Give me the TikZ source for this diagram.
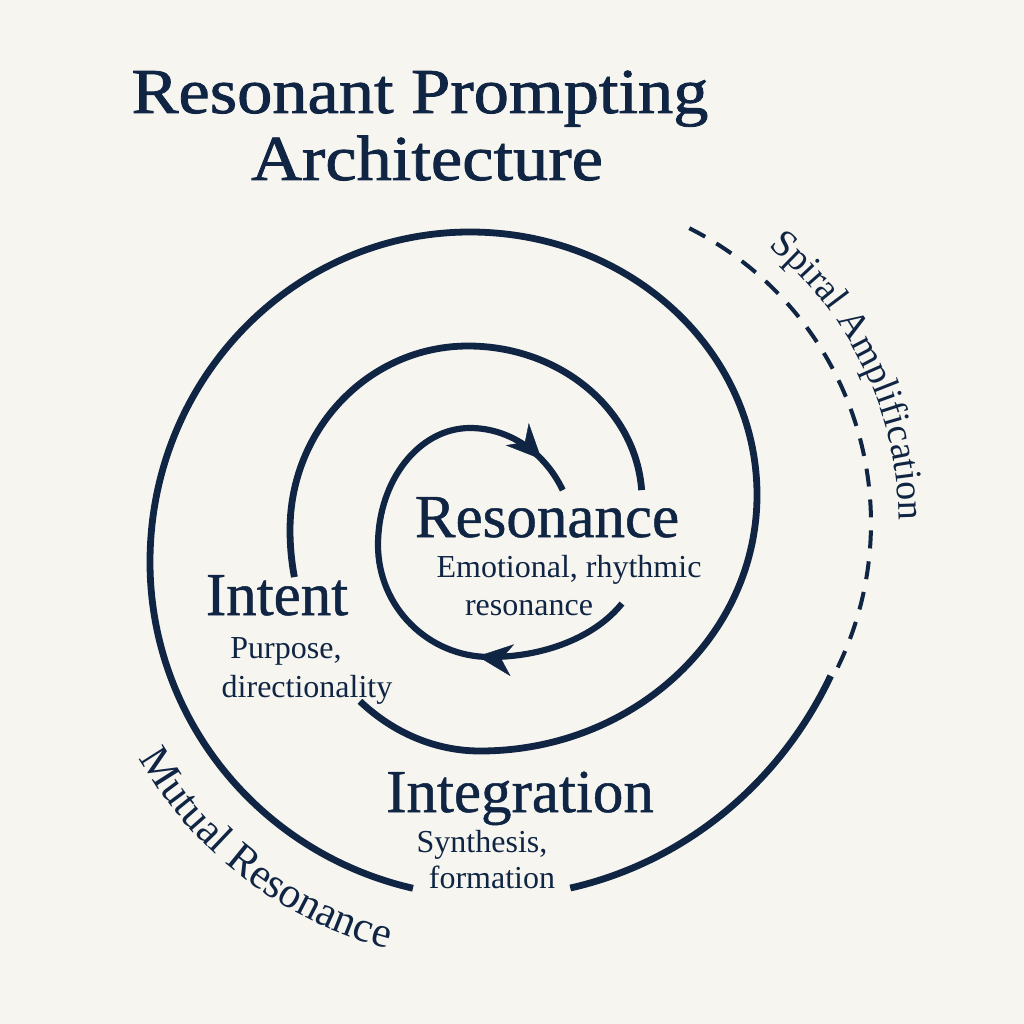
\documentclass[tikz,border=0pt]{standalone}
\usepackage{fontspec}
\setmainfont{Liberation Serif}
\newfontfamily\titlefont[FakeBold=1.3,FakeStretch=1.1]{Liberation Serif}
\newfontfamily\headfont[FakeBold=0.8]{Liberation Serif}
\usetikzlibrary{arrows.meta,decorations.markings,decorations.text}
\definecolor{navy}{HTML}{0F2543}
\definecolor{paper}{HTML}{F7F5F0}
\begin{document}
\begin{tikzpicture}[x=1pt,y=1pt,
  spiralline/.style={draw=navy,line width=6.8pt,line cap=butt},
  dashline/.style={draw=navy,line width=4pt,dash pattern=on 18pt off 13pt},
  titletext/.style={text=navy,inner sep=0pt,anchor=base,font=\titlefont\fontsize{64}{70}\selectfont},
  headtext/.style={text=navy,inner sep=0pt,anchor=base,font=\headfont\fontsize{61}{66}\selectfont},
  subtext/.style={text=navy,inner sep=0pt,anchor=base,font=\fontsize{32}{36}\selectfont},
  headmark/.style={decoration={markings,mark=at position #1 with {\arrow{Stealth[length=35pt,width=32pt,inset=11pt]}}},postaction={decorate}}]
\fill[paper] (0,0) rectangle (1024,-1024);
\useasboundingbox (0,0) rectangle (1024,-1024);

% outermost turn: dashed then solid
\draw[dashline] (541,-523) ++(63.3:330) arc[start angle=63.3,end angle=-27.8,radius=330];
\draw[spiralline] (490,-500) ++(-26.3:380 and 397)
  arc[start angle=-26.3,end angle=-77.8,x radius=380,y radius=397];

% second turn
\draw[spiralline] (490,-562) ++(-103.1:340 and 335)
  arc[start angle=-103.1,end angle=-180,x radius=340,y radius=335]
  arc[start angle=180,end angle=90,x radius=320,y radius=330]
  arc[start angle=90,end angle=0,x radius=287,y radius=263]
  arc[start angle=0,end angle=-90,x radius=277,y radius=256]
  arc[start angle=-90,end angle=-129.2,x radius=190,y radius=221];

% third turn
\draw[spiralline] (480,-530) ++(-167.7:190 and 221)
  arc[start angle=-167.7,end angle=-180,x radius=190,y radius=221]
  arc[start angle=180,end angle=90,x radius=178,y radius=184]
  arc[start angle=90,end angle=3.7,x radius=174,y radius=154];

% inner turn
\draw[spiralline,line width=6.2pt] (490,-555) ++(-28.4:150 and 102)
  arc[start angle=-28.4,end angle=-90,x radius=150,y radius=102]
  arc[start angle=-90,end angle=-180,radius=112]
  arc[start angle=180,end angle=90,x radius=92,y radius=117]
  arc[start angle=90,end angle=28,x radius=105,y radius=117];
% arrowheads on the inner turn
\path[draw=none,navy,headmark=0.16] (490,-545) ++(-90:112) arc[start angle=-90,end angle=-130,radius=112];
\path[draw=none,navy,headmark=0.6] (470,-545) ++(90:105 and 117) arc[start angle=90,end angle=20,x radius=105,y radius=117];

% title
\node[titletext] (t1) at (420,-113) {Resonant Prompting};
\node[titletext] (t2) at (427,-180) {Architecture};

% stage labels
\node[headtext] (res) at (547,-537) {Resonance};
\node[subtext] (res1) at (569,-577) {Emotional, rhythmic};
\node[subtext] (res2) at (529,-615) {resonance};

\node[headtext] (int) at (277,-615) {Intent};
\node[subtext] (int1) at (286,-658) {Purpose,};
\node[subtext] (int2) at (307,-697) {directionality};

\node[headtext] (itg) at (520,-812) {Integration};
\node[subtext] (itg1) at (482,-852) {Synthesis,};
\node[subtext] (itg2) at (492,-888) {formation};

% curved labels
\path[decorate,decoration={text along path,text align=center,text color=navy,
  text={|\fontsize{38}{42}\selectfont|Spiral Amplification}}]
  (541,-523) ++(56:358) arc[start angle=56,end angle=-5,radius=358];
\path[decorate,decoration={text along path,text align=center,text color=navy,
  text={|\fontsize{43}{46}\selectfont|Mutual Resonance}}]
  (490,-558) ++(-157:404) arc[start angle=-157,end angle=-98,radius=404];
\end{tikzpicture}
\end{document}
